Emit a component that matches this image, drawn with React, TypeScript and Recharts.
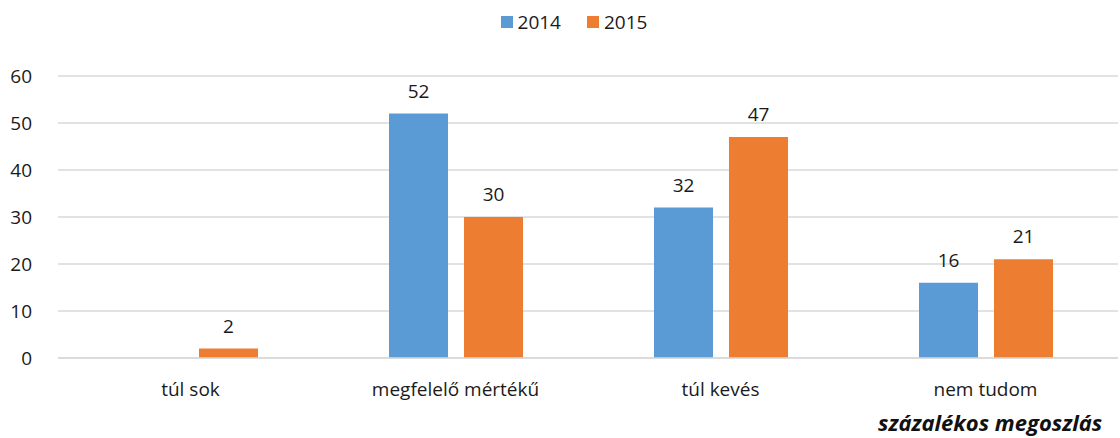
import React from "react";
import { BarChart, Bar, XAxis, YAxis, CartesianGrid, LabelList } from "recharts";

const categories = ["túl sok", "megfelelő mértékű", "túl kevés", "nem tudom"];
const series2014 = [null, 52, 32, 16];
const series2015 = [2, 30, 47, 21];
const yTicks = [0, 10, 20, 30, 40, 50, 60];

const data = categories.map((c, i) => ({ name: c, y2014: series2014[i], y2015: series2015[i] }));

const FONT = "'Open Sans', 'Noto Sans', sans-serif";
const BLUE = "#5B9BD5";
const ORANGE = "#ED7D31";
const TXT = "#1a1a1a";

export default function App() {
  return (
    <div style={{ position: "absolute", left: 0, top: 0, width: 1120, height: 438, background: "#fff", overflow: "hidden" }}>
      <div style={{ position: "absolute", left: 14, top: 9, width: 1120, display: "flex", justifyContent: "center", gap: 26, fontFamily: FONT, fontSize: 19, color: TXT, lineHeight: "26px" }}>
        <span style={{ display: "flex", alignItems: "center" }}>
          <span style={{ width: 12, height: 12, background: BLUE, display: "inline-block", marginRight: 5 }} />
          2014
        </span>
        <span style={{ display: "flex", alignItems: "center" }}>
          <span style={{ width: 12, height: 12, background: ORANGE, display: "inline-block", marginRight: 5 }} />
          2015
        </span>
      </div>
      <BarChart width={1120} height={438} data={data} margin={{ top: 76, right: 2, bottom: 0, left: 0 }} barGap={16} barSize={59}>
        <CartesianGrid vertical={false} stroke="#D9D9D9" strokeWidth={1.5} />
        <XAxis
          dataKey="name"
          height={80}
          axisLine={{ stroke: "#D9D9D9", strokeWidth: 1.5 }}
          tickLine={false}
          tick={{ fontFamily: FONT, fontSize: 19, fill: TXT }}
          tickMargin={19}
        />
        <YAxis
          width={58}
          domain={[0, 60]}
          ticks={yTicks}
          axisLine={false}
          tickLine={false}
          tick={{ fontFamily: FONT, fontSize: 19, fill: TXT }}
          tickMargin={20}
        />
        <Bar dataKey="y2014" fill={BLUE} isAnimationActive={false}>
          <LabelList dataKey="y2014" position="top" offset={16} style={{ fontFamily: FONT, fontSize: 19, fill: TXT }} />
        </Bar>
        <Bar dataKey="y2015" fill={ORANGE} isAnimationActive={false}>
          <LabelList dataKey="y2015" position="top" offset={16} style={{ fontFamily: FONT, fontSize: 19, fill: TXT }} />
        </Bar>
      </BarChart>
      <div style={{ position: "absolute", left: 878, top: 408, fontFamily: FONT, fontSize: 22, lineHeight: "28px", fontWeight: "bold", fontStyle: "italic", color: "#111", whiteSpace: "nowrap" }}>
        százalékos megoszlás
      </div>
    </div>
  );
}
